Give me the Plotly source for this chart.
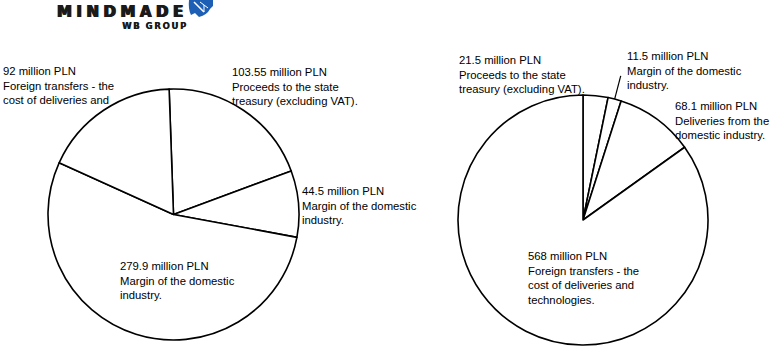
import math
import plotly.graph_objects as go

W, H = 784, 356

# ---- data ----
left_values = [103.55, 44.5, 279.9, 92]
left_desc = ["Proceeds to the state<br>treasury (excluding VAT).",
             "Margin of the domestic<br>industry.",
             "Margin of the domestic<br>industry.",
             "Foreign transfers - the<br>cost of deliveries and"]
right_values = [21.5, 11.5, 68.1, 568]
right_desc = ["Proceeds to the state<br>treasury (excluding VAT).",
              "Margin of the domestic<br>industry.",
              "Deliveries from the<br>domestic industry.",
              "Foreign transfers - the<br>cost of deliveries and<br>technologies."]

# ---- layout (pixels) ----
left_center, left_r, left_rot = (173.5, 214.5), 125.5, -2
right_center, right_r, right_rot = (583.0, 220.0), 125.0, 0
left_label_pos = [(230, 64), (300, 183), (118, 258), (1, 63)]
right_label_pos = [(457, 52), (625, 48), (673, 98), (526, 248)]

FONT = dict(family="Liberation Sans, Arial, sans-serif", size=11.3, color="#000000")


def dom(center, r):
    cx, cy = center
    return dict(x=[(cx - r) / W, (cx + r) / W],
                y=[(H - cy - r) / H, (H - cy + r) / H])


fig = go.Figure()
for vals, center, r, rot in [(left_values, left_center, left_r, left_rot),
                             (right_values, right_center, right_r, right_rot)]:
    fig.add_trace(go.Pie(
        values=vals, labels=[str(i) for i in range(len(vals))],
        sort=False, direction="clockwise", rotation=rot,
        textinfo="none", hoverinfo="skip",
        marker=dict(colors=["#ffffff"] * len(vals), line=dict(color="#000000", width=1.6)),
        domain=dom(center, r), showlegend=False))

annotations = []
for vals, descs, poss in [(left_values, left_desc, left_label_pos),
                          (right_values, right_desc, right_label_pos)]:
    for v, d, (px, py) in zip(vals, descs, poss):
        annotations.append(dict(
            text=f"{v:g} million PLN<br>{d}", x=px / W, y=1 - py / H,
            xref="paper", yref="paper", xanchor="left", yanchor="top",
            align="left", showarrow=False, font=FONT))

# logo
annotations.append(dict(text="\u2009\u200a".join("MINDMADE"), x=55 / W, y=1 - 0.5 / H,
                        xref="paper", yref="paper", xanchor="left", yanchor="top",
                        showarrow=False,
                        font=dict(family="DejaVu Sans", size=15, color="#1a1a1a", weight="bold",
                                  shadow="0.7px 0 0 #1a1a1a, -0.7px 0 0 #1a1a1a")))
annotations.append(dict(text="W\u2009B  G\u2009R\u2009O\u2009U\u2009P", x=188 / W, y=1 - 18.5 / H,
                        xref="paper", yref="paper", xanchor="right", yanchor="top",
                        showarrow=False,
                        font=dict(family="DejaVu Sans", size=8.5, color="#1a1a1a", weight="bold",
                                  shadow="0.4px 0 0 #1a1a1a")))

shapes = []
# blue logo mark
def P(x, y):
    return f"{x / W:.5f},{1 - y / H:.5f}"
logo_path = ("M " + P(189, 0) + " L " + P(213, 0) + " L " + P(213, 6) + " L " + P(210, 9)
             + " Q " + P(207, 15) + " " + P(199, 17)
             + " L " + P(195, 13) + " L " + P(191, 15) + " Q " + P(188, 9) + " " + P(189, 0) + " Z")
shapes.append(dict(type="path", path=logo_path, xref="paper", yref="paper",
                   fillcolor="#1d5fb4", line=dict(width=0)))
shapes.append(dict(type="line", xref="paper", yref="paper", x0=194 / W, y0=1 - 2 / H, x1=204 / W, y1=1 - 12 / H,
                   line=dict(color="#ffffff", width=1.5)))
shapes.append(dict(type="line", xref="paper", yref="paper", x0=200 / W, y0=1 - 2 / H, x1=208 / W, y1=1 - 8 / H,
                   line=dict(color="#ffffff", width=1)))
shapes.append(dict(type="line", xref="paper", yref="paper", x0=204 / W, y0=1 - 12 / H, x1=204 / W, y1=1 - 5 / H,
                   line=dict(color="#ffffff", width=1)))

# leader line for the small right slice (index 1), along its mid-angle
tot = sum(right_values)
mid = right_rot + 360 * (right_values[0] + right_values[1] / 2) / tot
a = math.radians(mid)
cx, cy = right_center
x0, y0 = cx + right_r * math.sin(a), cy - right_r * math.cos(a)
x1, y1 = cx + (right_r + 24) * math.sin(a), cy - (right_r + 24) * math.cos(a)
shapes.append(dict(type="line", xref="paper", yref="paper", x0=x0 / W, y0=1 - y0 / H, x1=x1 / W, y1=1 - y1 / H,
                   line=dict(color="#000000", width=1.2)))

fig.update_layout(width=W, height=H, margin=dict(l=0, r=0, t=0, b=0),
                  paper_bgcolor="#ffffff", plot_bgcolor="#ffffff",
                  annotations=annotations, shapes=shapes)
fig.write_html("out.html")
